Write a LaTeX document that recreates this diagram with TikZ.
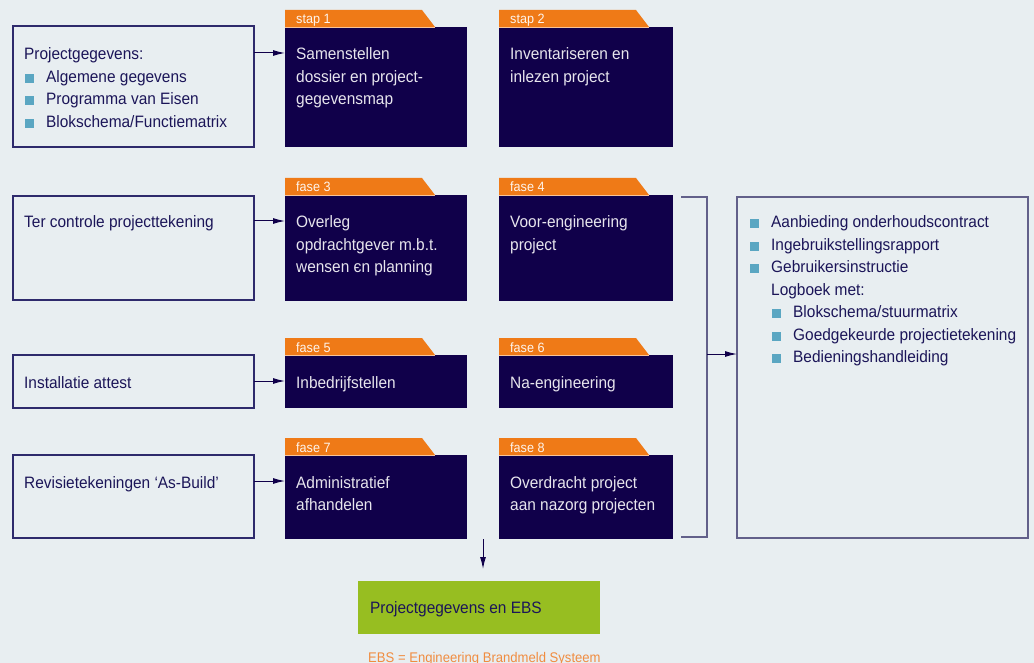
\documentclass[tikz,border=0pt]{standalone}
\usepackage{fontspec}
\setmainfont{Liberation Sans}[FakeStretch=0.935]
\usepackage{tikz}
\usetikzlibrary{arrows.meta}
\usetikzlibrary{calc}

\definecolor{bg}{HTML}{E8EEF1}
\definecolor{navy}{HTML}{10004A}
\definecolor{ink}{HTML}{1B1558}
\definecolor{frame}{HTML}{2E2A6C}
\definecolor{grayframe}{HTML}{62608A}
\definecolor{tabcol}{HTML}{EF7A17}
\definecolor{lime}{HTML}{97BE21}
\definecolor{bulcol}{HTML}{5AA6C2}
\definecolor{notecol}{HTML}{F08C40}

\begin{document}
\begin{tikzpicture}[x=1pt,y=-1pt,
    inbox/.style={draw=frame,line width=1.2pt,inner sep=0pt,outer sep=0pt,anchor=north west},
    darkbox/.style={fill=navy,inner sep=0pt,outer sep=0pt,anchor=north west},
    txt/.style={anchor=base west,inner sep=0pt,text=ink,font=\fontsize{16.5}{20}\selectfont},
    wtxt/.style={txt,text=white!90!navy},
    lbl/.style={anchor=base west,inner sep=0pt,text=white!92!tabcol,font=\fontsize{13.5}{16}\selectfont},
    arr/.style={draw=navy,line width=1pt,-{Latex[length=12pt,width=6pt]}},
    bracket/.style={draw=grayframe,line width=1.2pt}]
  \pgfmathsetmacro{\rowskip}{22.4}

  % Draw background
  \fill[bg] (0,0) rectangle (1034,663);
  \useasboundingbox (0,0) rectangle (1034,663);

  % text lines, one node per line
  \def\rows#1 at (#2)[#3]#4{
    \foreach \s [count=\i] in {#4}
      \node[#3] (#1\i) at ($(#2)+(0,{(\i-1)*\rowskip})$) {\s};
  }

  % square bullet in front of a line
  \def\bul(#1){
    \fill[bulcol] ($(#1.base west)+(-21.5,0.5)$) rectangle ++(9,-9);
  }

  % dark box with orange tab
  \def\fase#1 at (#2,#3) size (#4,#5)#6{
    \node[darkbox,minimum width=#4pt,minimum height=#5pt] (#1) at (#2,#3) {};
    \fill[tabcol] (#1.north west) -- ++(0,-17) -- ++(137,0) -- ++(13,17) -- cycle;
    \draw[tabcol!45!white,line width=0.8pt] (#1.north west) -- ++(150,0);
    \node[lbl] (#1lbl) at ($(#1.north west)+(11,-3)$) {#6};
  }

  % Draw input boxes
  \node[inbox,minimum width=241pt,minimum height=121pt] (inA) at (13,26) {};
  \node[inbox,minimum width=241pt,minimum height=104pt] (inB) at (13,196) {};
  \node[inbox,minimum width=241pt,minimum height=53pt] (inC) at (13,355) {};
  \node[inbox,minimum width=241pt,minimum height=83pt] (inD) at (13,455) {};

  \rows inAt at ($(inA.north west)+(11,34)$)[txt]{Projectgegevens:}
  \rows inAb at ($(inA.north west)+(33,34+\rowskip)$)[txt]{Algemene gegevens,Programma van Eisen,Blokschema/Functiematrix}
  \bul(inAb1) \bul(inAb2) \bul(inAb3)
  \rows inBt at ($(inB.north west)+(11,32)$)[txt]{Ter controle projecttekening}
  \rows inCt at ($(inC.north west)+(11,33)$)[txt]{Installatie attest}
  \rows inDt at ($(inD.north west)+(11,33)$)[txt]{Revisietekeningen ‘As-Build’}

  % Draw phases
  \fase f1 at (285,27) size (182,120){stap 1}
  \fase f2 at (499,27) size (174,120){stap 2}
  \fase f3 at (285,195) size (182,106){fase 3}
  \fase f4 at (499,195) size (174,106){fase 4}
  \fase f5 at (285,355) size (182,53){fase 5}
  \fase f6 at (499,355) size (174,53){fase 6}
  \fase f7 at (285,455) size (182,84){fase 7}
  \fase f8 at (499,455) size (174,84){fase 8}

  \rows f1t at ($(f1.north west)+(11,33)$)[wtxt]{Samenstellen,dossier en project-,gegevensmap}
  \rows f2t at ($(f2.north west)+(11,33)$)[wtxt]{Inventariseren en,inlezen project}
  \rows f3t at ($(f3.north west)+(11,33)$)[wtxt]{Overleg,opdrachtgever m.b.t.,wensen єn planning}
  \rows f4t at ($(f4.north west)+(11,33)$)[wtxt]{Voor-engineering,project}
  \rows f5t at ($(f5.north west)+(11,33)$)[wtxt]{Inbedrijfstellen}
  \rows f6t at ($(f6.north west)+(11,33)$)[wtxt]{Na-engineering}
  \rows f7t at ($(f7.north west)+(11,33)$)[wtxt]{Administratief,afhandelen}
  \rows f8t at ($(f8.north west)+(11,33)$)[wtxt]{Overdracht project,aan nazorg projecten}

  % Draw input arrows
  \foreach \a/\b in {inA/f1,inB/f3,inC/f5,inD/f7}{
    \coordinate (\a y) at ($(\b t1.base west)+(0,-7)$);
    \draw[arr] (\a.east |- \a y) -- (\b.west |- \a y);
  }

  % Draw output box
  \node[inbox,draw=grayframe,minimum width=291pt,minimum height=341pt] (out) at (737,197) {};
  \rows o at ($(out.north west)+(34,31)$)[txt]{Aanbieding onderhoudscontract,Ingebruikstellingsrapport,Gebruikersinstructie,Logboek met:}
  \bul(o1) \bul(o2) \bul(o3)
  \rows p at ($(out.north west)+(56,31+4*\rowskip)$)[txt]{Blokschema/stuurmatrix,Goedgekeurde projectietekening,Bedieningshandleiding}
  \bul(p1) \bul(p2) \bul(p3)

  % Draw bracket round phases 4 to 8
  \coordinate (brT) at ($(f4.north east)+(8,2)$);
  \coordinate (brB) at ($(f8.south east)+(8,-2)$);
  \coordinate (brM) at ($(brT)+(26,157)$);
  \draw[bracket] (brT) -- ++(26,0) |- (brB);
  \draw[arr] (brM) -- (out.west |- brM);

  % Draw result
  \node[darkbox,fill=lime,minimum width=242pt,minimum height=53pt] (ebs) at (358,581) {};
  \node[txt] (ebst) at ($(ebs.north west)+(12,32)$) {Projectgegevens en EBS};
  \coordinate (dn) at ($(f7.south east)!0.5!(f8.south west)$);
  \draw[arr,shorten >=12pt] (dn) -- (dn |- ebs.north);
  \node[txt,text=notecol,font=\fontsize{14}{16}\selectfont] (note) at ($(ebs.south west)+(10,28)$) {EBS = Engineering Brandmeld Systeem};
\end{tikzpicture}
\end{document}
